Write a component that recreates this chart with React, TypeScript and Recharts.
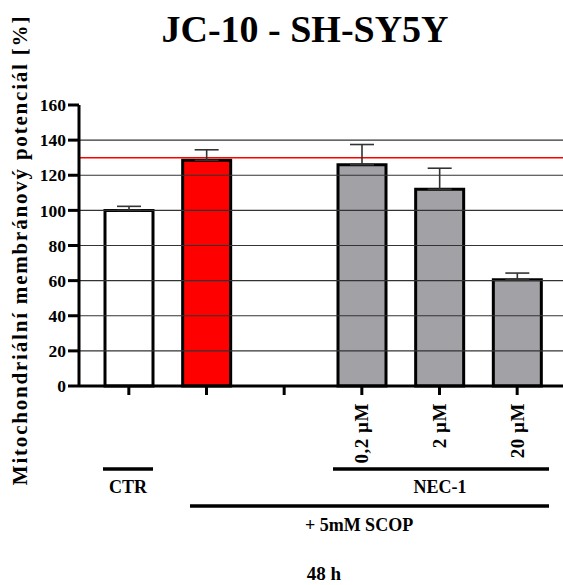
import { BarChart, Bar, XAxis, YAxis, ReferenceLine, ErrorBar, Cell } from "recharts";

const categories = ["CTR", "SCOP", "blank", "NEC 0,2", "NEC 2", "NEC 20"];
const tickLabels = ["", "", "", "0,2 µM", "2 µM", "20 µM"];
const means = [100, 128.5, null, 126, 112, 60.5];
const upperErrors = [2.3, 6, 0, 11.5, 12, 3.8];
const barColors = ["#ffffff", "#ff0000", "#ffffff", "#a2a1a6", "#a2a1a6", "#a2a1a6"];
const yTicks = [0, 20, 40, 60, 80, 100, 120, 140, 160];
const gridValues = [20, 40, 60, 80, 100, 120, 140];
const refValue = 130;

const data = categories.map((c, i) => ({
  name: c,
  label: tickLabels[i],
  value: means[i],
  err: [0, upperErrors[i]],
}));

const FONT = '"Liberation Serif"';

const XTick = (props: any) => {
  const { x, y, payload } = props;
  const label = tickLabels[payload.index] ?? "";
  if (!label) return null;
  return (
    <text
      x={x}
      y={y + 6}
      dy="0.34em"
      textAnchor="end"
      transform={`rotate(-90, ${x}, ${y + 6})`}
      style={{ fontFamily: FONT, fontWeight: "bold", fontSize: 19, letterSpacing: 0.5 }}
      fill="#000"
    >
      {label}
    </text>
  );
};

const textStyle = { fontFamily: FONT, fontWeight: "bold" as const };

export default function App() {
  return (
    <div style={{ position: "relative", width: 563, height: 585, background: "#fff" }}>
      <style>{`body{margin:0}`}</style>
      <BarChart
        width={563}
        height={585}
        data={data}
        margin={{ top: 105, right: 0, bottom: 0, left: 0 }}
      >
        {gridValues.map((v) => (
          <ReferenceLine key={v} y={v} stroke="#333" strokeWidth={1.2} />
        ))}
        <ReferenceLine y={refValue} stroke="#ff0000" strokeWidth={1.5} />
        <XAxis
          dataKey="name"
          interval={0}
          padding={{ left: 11, right: 7 }}
          axisLine={{ stroke: "#000", strokeWidth: 3 }}
          tickLine={{ stroke: "#000", strokeWidth: 3 }}
          tickSize={9}
          tick={<XTick />}
          height={199}
        />
        <YAxis
          width={79}
          domain={[0, 160]}
          ticks={yTicks}
          interval={0}
          axisLine={{ stroke: "#000", strokeWidth: 3 }}
          tickLine={{ stroke: "#000", strokeWidth: 3 }}
          tickSize={11}
          tickMargin={2}
          tick={{ style: { fontFamily: FONT, fontWeight: "bold", fontSize: 17.5 }, fill: "#000" }}
        />
        <Bar
          dataKey="value"
          barSize={48}
          stroke="#000"
          strokeWidth={3}
          isAnimationActive={false}
        >
          {data.map((d, i) => (
            <Cell key={d.name} fill={barColors[i]} />
          ))}
          <ErrorBar dataKey="err" width={12} stroke="#333" strokeWidth={1.6} direction="y" />
        </Bar>
      </BarChart>
      <svg
        width={563}
        height={585}
        style={{ position: "absolute", left: 0, top: 0, pointerEvents: "none" }}
      >
        <text x={305} y={42} textAnchor="middle" style={{ ...textStyle, fontSize: 38 }}>
          JC-10 - SH-SY5Y
        </text>
        <text
          x={27}
          y={250}
          textAnchor="middle"
          transform="rotate(-90, 27, 250)"
          style={{ ...textStyle, fontSize: 21, letterSpacing: 1.8 }}
        >
          Mitochondriální membránový potenciál [%]
        </text>
        <line x1={103} x2={153} y1={469} y2={469} stroke="#000" strokeWidth={3.5} />
        <text x={128} y={493} textAnchor="middle" style={{ ...textStyle, fontSize: 18 }}>CTR</text>
        <line x1={333} x2={549} y1={469} y2={469} stroke="#000" strokeWidth={3.5} />
        <text x={440} y={493} textAnchor="middle" style={{ ...textStyle, fontSize: 18 }}>NEC-1</text>
        <line x1={190} x2={549} y1={506} y2={506} stroke="#000" strokeWidth={3.5} />
        <text x={359} y={531} textAnchor="middle" style={{ ...textStyle, fontSize: 18 }}>+ 5mM SCOP</text>
        <text x={324} y={580} textAnchor="middle" style={{ ...textStyle, fontSize: 19 }}>48 h</text>
      </svg>
    </div>
  );
}
